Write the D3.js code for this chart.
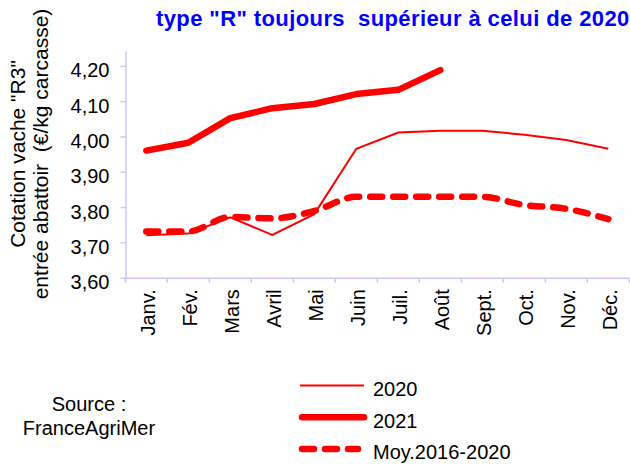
<!DOCTYPE html>
<html>
<head>
<meta charset="utf-8">
<script src="https://cdn.jsdelivr.net/npm/d3@7"></script>
<style>
  body { margin: 0; background: #fff; }
  svg { display: block; font-family: "Liberation Sans", Arial, sans-serif; }
</style>
</head>
<body>
<div id="chart"></div>
<script>
// data (€/kg carcasse)
const months = ['Janv.', 'Fév.', 'Mars', 'Avril', 'Mai', 'Juin', 'Juil.', 'Août', 'Sept.', 'Oct.', 'Nov.', 'Déc.']
const cot2020 = [3.72, 3.725, 3.771, 3.721, 3.78, 3.965, 4.011, 4.016, 4.016, 4.005, 3.99, 3.965]
const cot2021 = [3.96, 3.982, 4.052, 4.08, 4.092, 4.12, 4.132, 4.188]
const moy1620 = [3.731, 3.731, 3.772, 3.768, 3.789, 3.829, 3.829, 3.829, 3.829, 3.806, 3.795, 3.766]
const yTicks = [3.6, 3.7, 3.8, 3.9, 4.0, 4.1, 4.2]
const seriesNames = ['2020', '2021', 'Moy.2016-2020']

const width = 630, height = 464
const red = '#ff0000', axisColor = '#c8c8ff'

const svg = d3.select('#chart')
  .append('svg')
    .attr('width', width)
    .attr('height', height)

// scales
const x = d3.scaleBand().domain(months).range([125.3, 629.3])
const y = d3.scaleLinear().domain([3.6, 4.242]).range([277.7, 51])
const cx = i => x(months[i]) + x.bandwidth() / 2

// y axis
const yAxis = svg.append('g')
    .attr('transform', 'translate(125.5,0)')
    .call(d3.axisLeft(y)
      .tickValues(yTicks)
      .tickSize(5)
      .tickSizeOuter(0)
      .tickPadding(11)
      .tickFormat(d => d3.format('.2f')(d).replace('.', ',')))
yAxis.select('.domain').attr('stroke', axisColor).attr('stroke-width', 1.5)
yAxis.selectAll('.tick line').attr('stroke', axisColor).attr('stroke-width', 1.5)
yAxis.selectAll('.tick text')
    .attr('fill', '#000')
    .attr('font-size', 20)
    .attr('font-family', null)
    .attr('dy', '0.55em')

// x axis, ticks between the months
const xAxis = svg.append('g')
    .attr('transform', 'translate(0,' + y(3.6) + ')')
    .call(d3.axisBottom(x).tickSize(0).tickSizeOuter(0))
xAxis.select('.domain').attr('stroke', axisColor).attr('stroke-width', 1.5)
xAxis.selectAll('.tick text')
    .attr('fill', '#000')
    .attr('font-size', 20)
    .attr('font-family', null)
    .attr('transform', 'rotate(-90)')
    .attr('text-anchor', 'end')
    .attr('x', -11.5)
    .attr('y', 0)
    .attr('dy', '0.43em')
xAxis.selectAll('.sep')
  .data(months.map(m => x(m)).concat([x.range()[1]]))
  .enter().append('line').attr('class', 'sep')
    .attr('x1', d => d).attr('x2', d => d)
    .attr('y1', 0).attr('y2', 5)
    .attr('stroke', axisColor)
    .attr('stroke-width', 1.5)

// y axis title
const yTitle = ['Cotation vache "R3"', 'entrée abattoir  (€/kg carcasse)']
svg.selectAll('.ytitle')
  .data(yTitle)
  .enter().append('text').attr('class', 'ytitle')
    .attr('transform', (d, i) => 'translate(' + (25 + i * 23) + ',154) rotate(-90)')
    .attr('text-anchor', 'middle')
    .attr('font-size', 21)
    .style('white-space', 'pre')
    .text(d => d)

// lines
const line = d3.line().x((d, i) => cx(i)).y(d => y(d))

svg.append('path')
    .attr('fill', 'none')
    .attr('stroke', red)
    .attr('stroke-width', 2)
    .attr('d', line(cot2020))

svg.append('path')
    .attr('fill', 'none')
    .attr('stroke', red)
    .attr('stroke-width', 6.5)
    .attr('stroke-linecap', 'round')
    .attr('stroke-linejoin', 'round')
    .attr('d', line(cot2021))

svg.append('path')
    .attr('fill', 'none')
    .attr('stroke', red)
    .attr('stroke-width', 6.5)
    .attr('stroke-linecap', 'round')
    .attr('stroke-dasharray', '12,11')
    .attr('d', line.curve(d3.curveMonotoneX)(moy1620))

// legend
const legendStyle = [
  {w: 2, dash: null, cap: 'butt'},
  {w: 6.5, dash: null, cap: 'round'},
  {w: 6.5, dash: '12,11', cap: 'round'}
]
const legend = svg.selectAll('.legend')
  .data(seriesNames)
  .enter().append('g').attr('class', 'legend')
    .attr('transform', (d, i) => 'translate(0,' + (385.5 + i * 31.7) + ')')
legend.append('line')
    .attr('x1', (d, i) => i === 0 ? 300 : 302)
    .attr('x2', (d, i) => i === 2 ? 358 : 364)
    .attr('stroke', red)
    .attr('stroke-width', (d, i) => legendStyle[i].w)
    .attr('stroke-linecap', (d, i) => legendStyle[i].cap)
    .attr('stroke-dasharray', (d, i) => legendStyle[i].dash)
legend.append('text')
    .attr('x', 373)
    .attr('y', 10.5)
    .attr('font-size', 20)
    .text(d => d)

// source
svg.append('text')
    .attr('x', 89).attr('y', 410.7)
    .attr('text-anchor', 'middle')
    .attr('font-size', 20)
    .text('Source :')
svg.append('text')
    .attr('x', 89).attr('y', 435)
    .attr('text-anchor', 'middle')
    .attr('font-size', 20)
    .text('FranceAgriMer')

// title (second line, first is cut off above)
svg.append('text')
    .attr('x', 156).attr('y', 26)
    .attr('font-size', 22)
    .attr('font-weight', 'bold')
    .attr('fill', '#0000ff')
    .attr('letter-spacing', 0.4)
    .style('white-space', 'pre')
    .text('type "R" toujours  supérieur à celui de 2020')
</script>
</body>
</html>
